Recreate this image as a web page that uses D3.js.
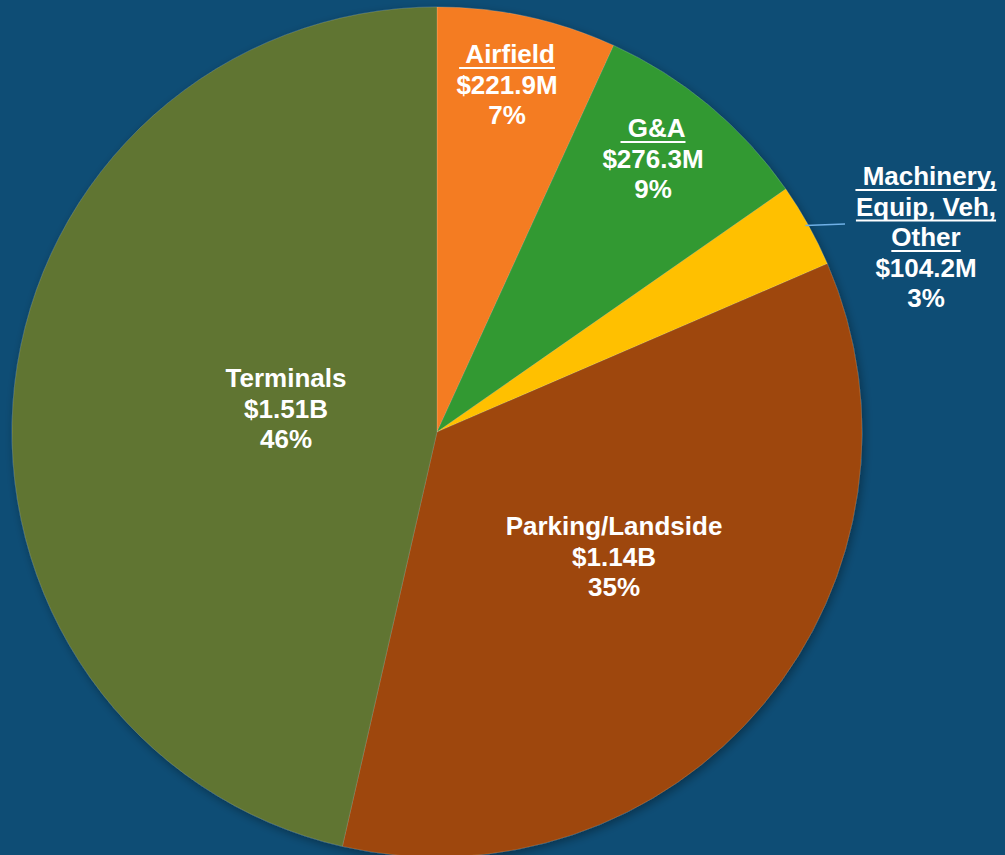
<!DOCTYPE html>
<html>
<head>
<meta charset="utf-8">
<script src="https://cdn.jsdelivr.net/npm/d3@7"></script>
<style>
  html, body { margin: 0; padding: 0; background: #0e4d75; }
  svg { display: block; }
  .lbl { font-family: "Liberation Sans", Arial, sans-serif; font-weight: bold; font-size: 26px; fill: #fff; }
</style>
</head>
<body>
<div id="chart"></div>
<script>
// slices, clockwise from 12 o'clock
var categories = ["Airfield", "G&A", "Machinery, Equip, Veh, Other", "Parking/Landside", "Terminals"];
var values = [221.9, 276.3, 104.2, 1140, 1510]; // $M
var valueLabels = ["$221.9M", "$276.3M", "$104.2M", "$1.14B", "$1.51B"];
var pctLabels = ["7%", "9%", "3%", "35%", "46%"];
var nameLines = [[" Airfield"], [" G&A"], [" Machinery,", "Equip, Veh,", "Other"], ["Parking/Landside"], ["Terminals"]];
var underlined = [true, true, true, false, false];
var colors = ["#f47c20", "#339933", "#ffc000", "#9e4607", "#617431"];

var width = 1005, height = 855;
var cx = 437, cy = 432, radius = 425;
var lineH = 30.5;

// label anchor (center of first line baseline) relative to pie center
var labelAnchor = [[70, -369], [216, -295], [489, -247], [177, 103], [-151, -45]];

var svg = d3.select("#chart").append("svg")
  .attr("width", width)
  .attr("height", height);

var defs = svg.append("defs");
var f = defs.append("filter").attr("id", "shadow")
  .attr("x", "-10%").attr("y", "-10%").attr("width", "120%").attr("height", "120%");
f.append("feDropShadow")
  .attr("dx", 2).attr("dy", 3)
  .attr("stdDeviation", 5)
  .attr("flood-color", "#000")
  .attr("flood-opacity", 0.35);

var data = categories.map((c, i) => ({name: c, value: values[i], i: i}));

var pie = d3.pie().sort(null).value(d => d.value);
var arc = d3.arc().innerRadius(0).outerRadius(radius);

var g = svg.append("g").attr("transform", `translate(${cx},${cy})`);

g.append("g")
  .attr("filter", "url(#shadow)")
  .selectAll("path")
  .data(pie(data))
  .join("path")
    .attr("d", arc)
    .attr("fill", d => colors[d.data.i])
    .attr("stroke", "rgba(255,255,255,0.25)")
    .attr("stroke-width", 0.6);

// leader line for the small slice
var arcs = pie(data);
var mach = arcs[2];
var midA = (mach.startAngle + mach.endAngle) / 2;
var px = Math.sin(midA) * radius, py = -Math.cos(midA) * radius;
g.append("line")
  .attr("x1", px - 3).attr("y1", py)
  .attr("x2", 408).attr("y2", -208)
  .attr("stroke", "#6fb0e6")
  .attr("stroke-width", 1.5);

var labels = g.selectAll(".label")
  .data(arcs)
  .join("g")
    .attr("class", "label")
    .attr("transform", d => `translate(${labelAnchor[d.data.i][0]},${labelAnchor[d.data.i][1]})`);

labels.each(function(d) {
  var sel = d3.select(this);
  var i = d.data.i;
  var lines = nameLines[i];
  lines.forEach(function(t, k) {
    var txt = sel.append("text")
      .attr("class", "lbl")
      .attr("x", 0)
      .attr("y", k * lineH)
      .attr("text-anchor", "middle")
      .attr("xml:space", "preserve")
      .style("white-space", "pre")
      .text(t);
    if (underlined[i]) {
      var w = txt.node().getComputedTextLength();
      sel.append("rect")
        .attr("x", -w / 2)
        .attr("y", k * lineH + 4)
        .attr("width", w)
        .attr("height", 2)
        .attr("fill", "#fff");
    }
  });
  var n = lines.length;
  sel.append("text")
    .attr("class", "lbl")
    .attr("y", n * lineH)
    .attr("text-anchor", "middle")
    .text(valueLabels[i]);
  sel.append("text")
    .attr("class", "lbl")
    .attr("y", (n + 1) * lineH)
    .attr("text-anchor", "middle")
    .text(pctLabels[i]);
});
</script>
</body>
</html>
